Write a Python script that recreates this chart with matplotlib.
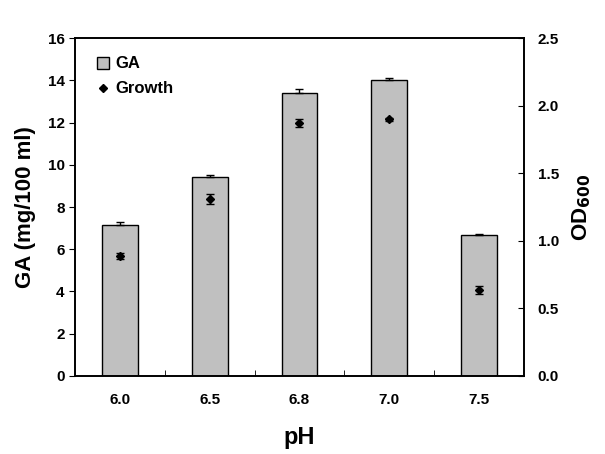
import numpy as np
import matplotlib.pyplot as plt
from matplotlib.lines import Line2D

plt.rcParams['font.family'] = ['Liberation Sans', 'DejaVu Sans']
plt.rcParams['font.weight'] = 'bold'

ph = ['6.0', '6.5', '6.8', '7.0', '7.5']
ga = [7.15, 9.43, 13.38, 14.04, 6.67]
ga_err = [0.14, 0.07, 0.19, 0.06, 0.04]
growth = [0.888, 1.31, 1.87, 1.90, 0.636]
growth_err = [0.02, 0.04, 0.03, 0.01, 0.03]

fig = plt.figure(figsize=(6.05, 4.54), dpi=100)
ax = fig.add_axes([0.124, 0.172, 0.742, 0.744])
x = np.arange(len(ph))

ax.bar(x, ga, width=0.4, color='#c0c0c0', edgecolor='black', linewidth=1.0, zorder=2)
ax.errorbar(x, ga, yerr=[np.zeros(len(ga)), ga_err], fmt='none', ecolor='black',
            elinewidth=1, capsize=3, capthick=1, zorder=3)
ax.set_xlim(-0.5, len(ph) - 0.5)
ax.set_ylim(0, 16)
ax.set_yticks(np.arange(0, 17, 2))
ax.set_xticks(x)
ax.set_xticklabels(ph)
ax.set_xticks(x[:-1] + 0.5, minor=True)
ax.tick_params(axis='x', which='major', length=0, pad=12, labelsize=11)
ax.tick_params(axis='x', which='minor', direction='in', length=4)
ax.tick_params(axis='y', direction='out', length=4, labelsize=11)
ax.set_xlabel('pH', fontsize=17, fontweight='bold', labelpad=14)
ax.set_ylabel('GA (mg/100 ml)', fontsize=16, fontweight='bold', labelpad=8)

ax2 = ax.twinx()
ax2.errorbar(x, growth, yerr=growth_err, fmt='D', color='black', ms=4.5,
             elinewidth=1, capsize=3, capthick=1, zorder=4)
ax2.set_ylim(0, 2.5)
ax2.set_yticks(np.arange(0, 2.51, 0.5))
ax2.set_yticklabels(['%.1f' % v for v in np.arange(0, 2.51, 0.5)])
ax2.tick_params(axis='y', direction='in', length=4, labelsize=11, pad=10)
ax2.set_ylabel('OD$_{\\mathbf{600}}$', fontsize=16, fontweight='bold', labelpad=8)

for a in (ax, ax2):
    for s in a.spines.values():
        s.set_linewidth(1.2)

handles = [
    Line2D([], [], marker='s', linestyle='none', markerfacecolor='#c0c0c0',
           markeredgecolor='black', markersize=9),
    Line2D([], [], marker='D', linestyle='none', color='black', markersize=4.5),
]
ax.legend(handles, ['GA', 'Growth'], loc='upper left', frameon=False,
          prop={'size': 12, 'weight': 'bold'}, handletextpad=0.1,
          borderaxespad=0.7, labelspacing=0.6, handlelength=1.2)

fig.savefig('out.png', dpi=100)
